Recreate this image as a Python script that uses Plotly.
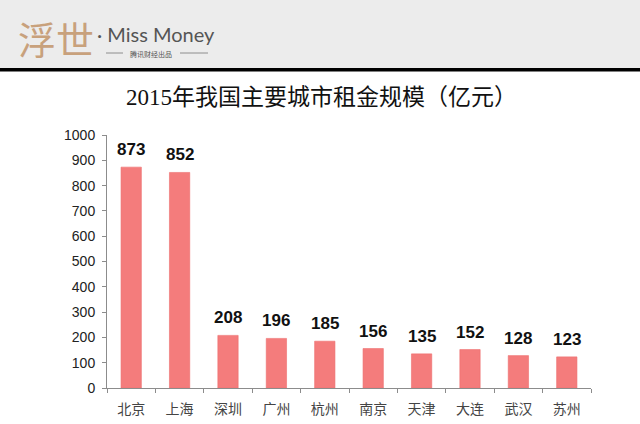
import plotly.graph_objects as go

cities = ["北京", "上海", "深圳", "广州", "杭州", "南京", "天津", "大连", "武汉", "苏州"]
rent = [873, 852, 208, 196, 185, 156, 135, 152, 128, 123]
y_ticks = [0, 100, 200, 300, 400, 500, 600, 700, 800, 900, 1000]
title_text = "2015年我国主要城市租金规模（亿元）"
brand_cn = "浮世"
brand_en = "· Miss Money"
brand_sub = "腾讯财经出品"

W, H = 640, 424
L, R, T, B = 107, 49, 135, 36
pw = W - L - R
ph = H - T - B


def px(x):
    return (x - L) / pw


def py(y):
    return (H - B - y) / ph


fig = go.Figure()
fig.add_trace(go.Bar(
    x=cities, y=rent,
    marker=dict(color="#F47C7C", line=dict(color="#EE6E6E", width=0.6)),
    hoverinfo="skip",
))

for c, v in zip(cities, rent):
    fig.add_annotation(
        x=c, y=v, xref="x", yref="y", text=f"<b>{v}</b>", showarrow=False,
        yanchor="bottom", yshift=6,
        font=dict(family="Liberation Sans, Arial", size=17, color="#111"),
    )

shapes = [
    dict(type="rect", xref="paper", yref="paper", x0=px(0), x1=px(W), y0=py(0), y1=py(68),
         fillcolor="#ECECEC", line=dict(width=0), layer="below"),
    dict(type="rect", xref="paper", yref="paper", x0=px(0), x1=px(W), y0=py(68), y1=py(71.5),
         fillcolor="#000000", line=dict(width=0)),
    dict(type="line", xref="paper", yref="paper", x0=px(106), x1=px(123), y0=py(53), y1=py(53),
         line=dict(color="#777", width=0.8)),
    dict(type="line", xref="paper", yref="paper", x0=px(180), x1=px(208), y0=py(53), y1=py(53),
         line=dict(color="#777", width=0.8)),
]

annotations = [
    dict(x=px(16), y=py(37), xref="paper", yref="paper", xanchor="left", yanchor="middle",
         text=brand_cn, showarrow=False,
         font=dict(family="Noto Sans CJK SC", size=38, color="#C8A17C")),
    dict(x=px(95), y=py(34), xref="paper", yref="paper", xanchor="left", yanchor="middle",
         text=brand_en, showarrow=False,
         font=dict(family="Lato, Open Sans", size=20, color="#555")),
    dict(x=px(151), y=py(53.5), xref="paper", yref="paper", xanchor="center", yanchor="middle",
         text=brand_sub, showarrow=False,
         font=dict(family="Noto Sans CJK SC", size=7, color="#555")),
    dict(x=px(321), y=py(97), xref="paper", yref="paper", xanchor="center", yanchor="middle",
         text=title_text, showarrow=False,
         font=dict(family="Liberation Serif, Noto Sans CJK SC", size=23, color="#111")),
]

fig.update_layout(
    width=W, height=H,
    margin=dict(l=L, r=R, t=T, b=B, pad=0, autoexpand=False),
    paper_bgcolor="white", plot_bgcolor="white",
    showlegend=False,
    bargap=0.58,
    shapes=shapes,
)
for a in annotations:
    fig.add_annotation(**a)

fig.update_xaxes(
    automargin=False,
    showline=True, linecolor="#8C8C8C", linewidth=1,
    ticks="outside", ticklen=4, tickcolor="#8C8C8C", tickson="boundaries",
    tickfont=dict(family="Noto Sans CJK SC", size=14, color="#444"),
    ticklabelstandoff=8, showgrid=False,
)
fig.update_yaxes(
    automargin=False,
    range=[0, 1000], tickvals=y_ticks, showgrid=False, zeroline=False,
    showline=True, linecolor="#8C8C8C", linewidth=1,
    ticks="outside", ticklen=4, tickcolor="#8C8C8C",
    tickfont=dict(family="Liberation Sans, Arial", size=14, color="#222"),
    ticklabelstandoff=4,
)

fig.write_html(
    "out.html",
    config={"displayModeBar": False},
    post_script="document.body.style.margin='0';document.body.style.overflow='hidden';",
)
